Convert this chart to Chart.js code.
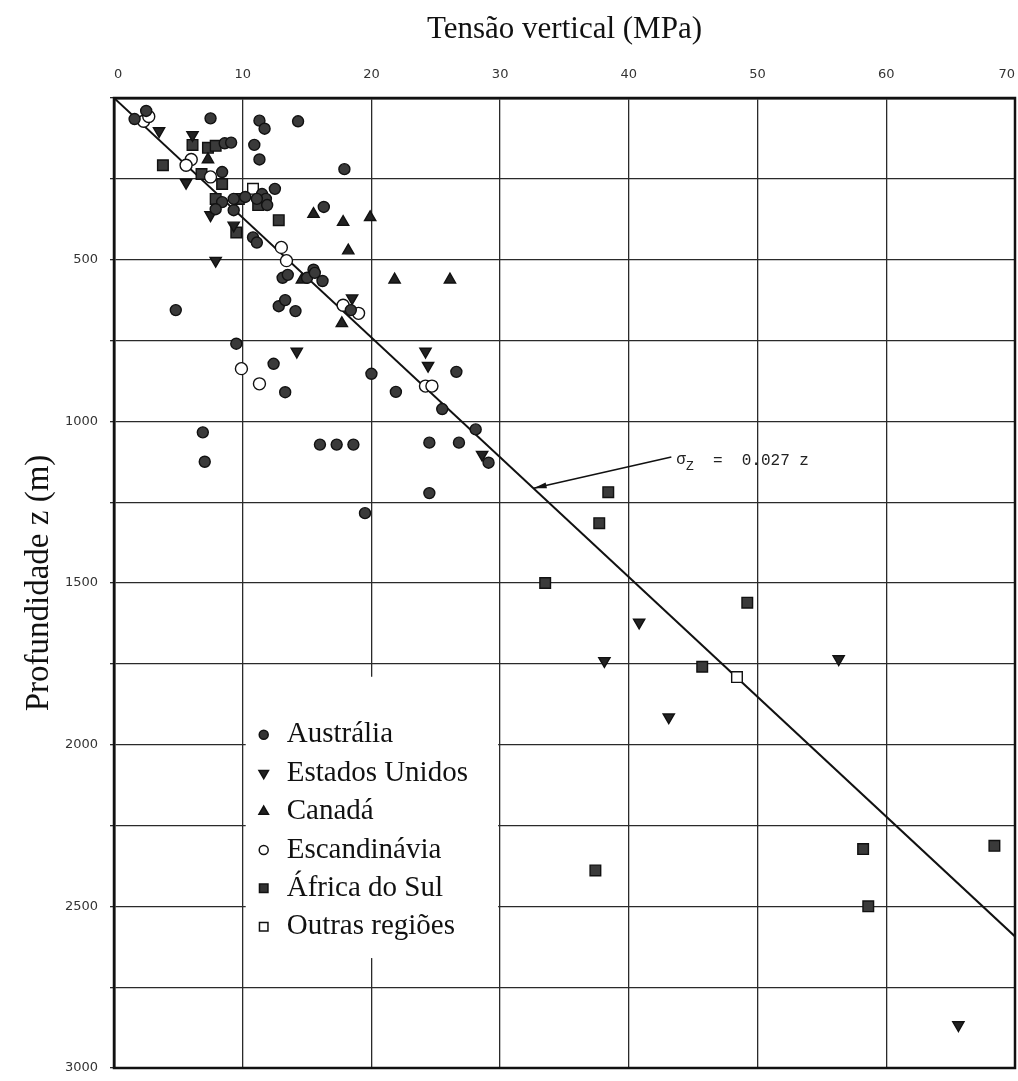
<!DOCTYPE html>
<html>
<head>
<meta charset="utf-8">
<script src="https://cdn.jsdelivr.net/npm/chart.js@4.4.1/dist/chart.umd.min.js"></script>
<style>
  html, body { margin: 0; padding: 0; background: #fff; }
  #wrap { width: 1018px; height: 1081px; }
</style>
</head>
<body>
<div id="wrap"><canvas id="stressChart" width="1018" height="1081"></canvas></div>
<script>
// Pontos: [tensão vertical (MPa), profundidade z (m)]
const australia = [
  [2.5, 40], [1.6, 65], [7.5, 63], [11.3, 70], [11.7, 95], [14.3, 72], [10.9, 145], [11.3, 190], [17.9, 220],
  [8.6, 140], [9.1, 138], [8.4, 229], [10.2, 306], [11.5, 297], [12.5, 281], [11.8, 312], [11.9, 331], [11.1, 312],
  [8.4, 322], [9.3, 312], [7.9, 344], [9.3, 347], [10.8, 431], [11.1, 447], [16.3, 337],
  [13.1, 556], [13.5, 547], [15.0, 556], [15.5, 531], [15.6, 541], [16.2, 566],
  [12.8, 644], [13.3, 625], [14.1, 659], [18.4, 656], [4.8, 656], [9.5, 760], [12.4, 822], [13.3, 910],
  [20.0, 853], [21.9, 909], [26.6, 847], [25.5, 962], [28.1, 1025], [6.9, 1034], [7.05, 1125],
  [16.0, 1072], [17.3, 1072], [18.6, 1072], [24.5, 1066], [26.8, 1066], [29.1, 1128], [24.5, 1222], [19.5, 1284]
];
const estadosUnidos = [
  [3.5, 102], [6.1, 114], [5.6, 262], [7.5, 362], [9.3, 394], [7.9, 503], [18.5, 619], [14.2, 784],
  [24.2, 784], [24.4, 828], [28.6, 1103], [40.8, 1622], [38.1, 1741], [43.1, 1915], [56.3, 1735], [65.6, 2867]
];
const canada = [
  [7.3, 190], [15.5, 359], [17.8, 384], [19.9, 369], [18.2, 472], [21.8, 562], [26.1, 562], [14.6, 562], [17.7, 697]
];
const escandinavia = [
  [2.3, 72], [2.7, 57], [6.0, 190], [5.6, 208], [7.5, 244], [13.0, 462], [13.4, 503], [17.8, 641],
  [19.0, 666], [9.9, 837], [11.3, 884], [24.2, 891], [24.7, 891]
];
const africaDoSul = [
  [6.1, 145], [7.3, 154], [7.9, 148], [3.8, 208], [6.8, 235], [8.4, 266], [7.9, 312], [9.7, 312], [11.2, 331],
  [9.5, 416], [12.8, 378], [38.4, 1219], [37.7, 1315], [33.5, 1500], [49.2, 1561], [45.7, 1759],
  [37.4, 2389], [58.2, 2323], [68.4, 2313], [58.6, 2500]
];
const outrasRegioes = [[10.8, 281], [48.4, 1791]];

// reta sigma_z = 0.027 z (extremos)
const retaTensao = [[0, 0], [70, 2593]];
const setaCauda = [43.3, 1110];
const setaPonta = [32.6, 1207];

const xTicks = [0, 10, 20, 30, 40, 50, 60, 70];
const yLabelTicks = [500, 1000, 1500, 2000, 2500, 3000];

const toXY = arr => arr.map(p => ({ x: p[0], y: p[1] }));

const legendItems = [
  { text: 'Austrália', style: 'circle', radius: 4.5, rotation: 0, fill: '#333' },
  { text: 'Estados Unidos', style: 'triangle', radius: 5.5, rotation: 180, fill: '#222' },
  { text: 'Canadá', style: 'triangle', radius: 5.5, rotation: 0, fill: '#222' },
  { text: 'Escandinávia', style: 'circle', radius: 4.5, rotation: 0, fill: '#fff' },
  { text: 'África do Sul', style: 'rect', radius: 6, rotation: 0, fill: '#333' },
  { text: 'Outras regiões', style: 'rect', radius: 6, rotation: 0, fill: '#fff' }
];

// moldura + legenda + anotação
const extras = {
  id: 'extras',
  afterDatasetsDraw(chart) {
    const { ctx, chartArea: a, scales: { x, y } } = chart;
    ctx.save();

    // moldura externa
    ctx.strokeStyle = '#111';
    ctx.lineWidth = 2.5;
    ctx.strokeRect(a.left, a.top, a.right - a.left, a.bottom - a.top);

    // caixa da legenda
    const bl = x.getPixelForValue(10) + 3, br = x.getPixelForValue(30) - 2;
    const bt = y.getPixelForValue(1790), bb = y.getPixelForValue(2660);
    ctx.fillStyle = '#fff';
    ctx.fillRect(bl, bt, br - bl, bb - bt);

    ctx.font = '29px "Liberation Serif"';
    ctx.textBaseline = 'middle';
    legendItems.forEach((it, i) => {
      const cy = bt + 58 + i * 38.4;
      ctx.fillStyle = it.fill;
      ctx.strokeStyle = '#111';
      ctx.lineWidth = 1.5;
      Chart.helpers.drawPoint(ctx, { pointStyle: it.style, radius: it.radius, rotation: it.rotation, borderWidth: 1.5 }, bl + 18, cy);
      ctx.fillStyle = '#111';
      ctx.fillText(it.text, bl + 41, cy);
    });

    // seta
    const tx = x.getPixelForValue(setaCauda[0]), ty = y.getPixelForValue(setaCauda[1]);
    const hx = x.getPixelForValue(setaPonta[0]), hy = y.getPixelForValue(setaPonta[1]);
    ctx.strokeStyle = '#111';
    ctx.lineWidth = 1.5;
    ctx.beginPath();
    ctx.moveTo(tx, ty);
    ctx.lineTo(hx, hy);
    ctx.stroke();
    const ang = Math.atan2(hy - ty, hx - tx);
    ctx.fillStyle = '#111';
    ctx.beginPath();
    ctx.moveTo(hx, hy);
    ctx.lineTo(hx - 13 * Math.cos(ang) + 3 * Math.sin(ang), hy - 13 * Math.sin(ang) - 3 * Math.cos(ang));
    ctx.lineTo(hx - 13 * Math.cos(ang) - 3 * Math.sin(ang), hy - 13 * Math.sin(ang) + 3 * Math.cos(ang));
    ctx.closePath();
    ctx.fill();

    // texto da equação
    ctx.fillStyle = '#222';
    ctx.textBaseline = 'alphabetic';
    let px = tx + 5;
    const base = ty + 8;
    ctx.font = '16px "Liberation Mono"';
    ctx.fillText('σ', px, base - 1);
    px += ctx.measureText('σ').width;
    ctx.font = '13px "Liberation Mono"';
    ctx.fillText('Z', px, base + 5);
    px += ctx.measureText('Z').width;
    ctx.font = '16px "Liberation Mono"';
    ctx.fillText('  =  0.027 z', px, base);

    ctx.restore();
  }
};

const pointCommon = { borderColor: '#111', borderWidth: 1.4 };

new Chart(document.getElementById('stressChart').getContext('2d'), {
  type: 'scatter',
  data: {
    datasets: [
      { label: 'Austrália', data: toXY(australia), pointStyle: 'circle', pointRadius: 5.5, backgroundColor: '#3a3a3a', ...pointCommon },
      { label: 'Estados Unidos', data: toXY(estadosUnidos), pointStyle: 'triangle', pointRotation: 180, pointRadius: 6.5, backgroundColor: '#222', ...pointCommon },
      { label: 'Canadá', data: toXY(canada), pointStyle: 'triangle', pointRadius: 6.5, backgroundColor: '#222', ...pointCommon },
      { label: 'Escandinávia', data: toXY(escandinavia), pointStyle: 'circle', pointRadius: 6, backgroundColor: '#fff', ...pointCommon },
      { label: 'África do Sul', data: toXY(africaDoSul), pointStyle: 'rect', pointRadius: 7.5, backgroundColor: '#3a3a3a', ...pointCommon },
      { label: 'Outras regiões', data: toXY(outrasRegioes), pointStyle: 'rect', pointRadius: 7.5, backgroundColor: '#fff', ...pointCommon },
      { label: 'σz = 0.027 z', data: toXY(retaTensao), showLine: true, pointRadius: 0, borderColor: '#111', borderWidth: 2, fill: false }
    ]
  },
  options: {
    responsive: false,
    animation: false,
    layout: { autoPadding: false, padding: { left: 0, top: 0, right: 3, bottom: 13 } },
    plugins: { legend: { display: false }, tooltip: { enabled: false } },
    scales: {
      x: {
        type: 'linear',
        position: 'top',
        min: 0,
        max: 70,
        afterFit: s => { s.height = 98; s.paddingLeft = 0; s.paddingRight = 0; },
        afterBuildTicks: s => { s.ticks = xTicks.map(v => ({ value: v })); },
        ticks: { align: 'inner', color: '#333', padding: 16, font: { family: 'DejaVu Sans', size: 13 } },
        grid: { color: '#2a2a2a', lineWidth: 1.3, drawTicks: false },
        border: { display: true, color: '#111', width: 2.5 },
        title: { display: true, text: 'Tensão vertical (MPa)', color: '#111', padding: { top: 11, bottom: 0 }, font: { family: 'Liberation Serif', size: 31 } }
      },
      y: {
        type: 'linear',
        reverse: true,
        min: 0,
        max: 3000,
        afterFit: s => { s.width = 114; s.paddingTop = 0; s.paddingBottom = 0; },
        ticks: {
          stepSize: 250,
          color: '#333',
          padding: 12,
          font: { family: 'DejaVu Sans', size: 13 },
          callback: v => (yLabelTicks.includes(v) ? String(v) : '')
        },
        grid: { color: '#2a2a2a', lineWidth: 1.3, tickLength: 4 },
        border: { display: true, color: '#111', width: 2.5 },
        title: { display: true, text: 'Profundidade z (m)', color: '#111', padding: { top: 20, bottom: 0 }, font: { family: 'Liberation Serif', size: 33 } }
      }
    }
  },
  plugins: [extras]
});
</script>
</body>
</html>
